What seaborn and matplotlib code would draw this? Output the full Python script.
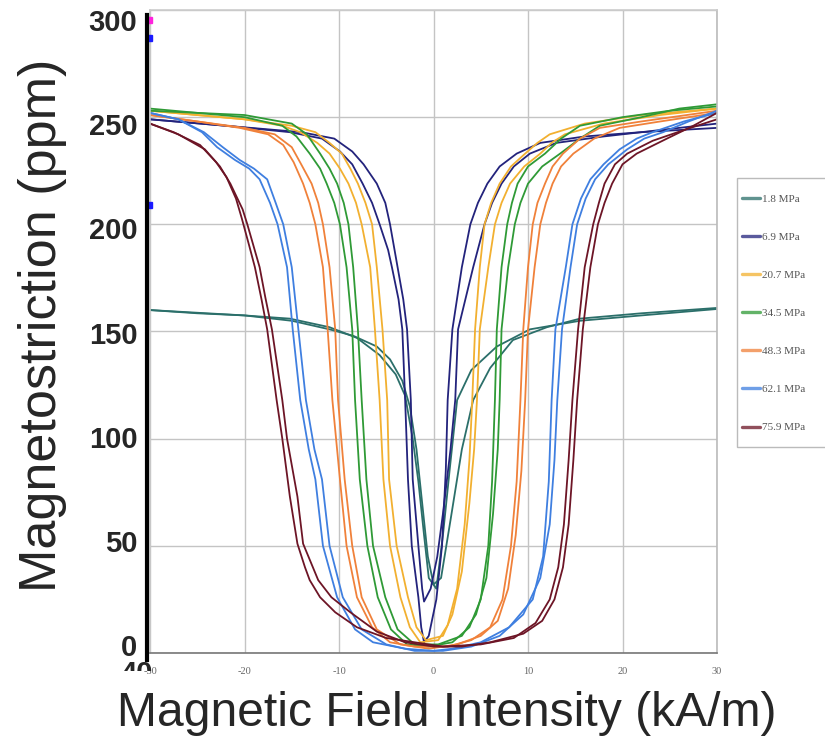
import matplotlib
matplotlib.use("Agg")
import matplotlib.pyplot as plt
from matplotlib.lines import Line2D
from matplotlib.patches import Rectangle
import seaborn as sns
import pandas as pd

sns.set_theme(style="white")
plt.rcParams["font.family"] = ["Liberation Sans", "DejaVu Sans"]

# Pre-stress levels and their curve colours
stress_labels = ["1.8 MPa", "6.9 MPa", "20.7 MPa", "34.5 MPa", "48.3 MPa", "62.1 MPa", "75.9 MPa"]
stress_colors = ["#2b6f6a", "#23237c", "#f2b030", "#2f9a36", "#f0813a", "#3f7fe0", "#6d1526"]

# Magnetostriction (ppm) against field intensity (kA/m); two branches per stress level
h_1_8_a = [-30, -25, -20, -15.2, -11, -8.1, -5.7, -4.0, -3.0, -2.2, -1.6, -1.0, -0.5, 0.3, 1.0, 1.7, 2.5, 4.0, 6.7, 10.2, 15.5, 22, 30]
l_1_8_a = [160, 158.5, 157.5, 156, 152, 147, 139, 130, 120, 100, 80, 55, 35, 30, 55, 85, 118, 132, 143, 151, 155, 157.5, 160.5]
h_1_8_b = [-30, -20, -15, -11, -8.5, -6.0, -4.6, -3.3, -2.5, -1.8, -1.2, -0.6, 0.0, 0.8, 1.8, 3.0, 4.2, 6.0, 8.4, 12, 15.5, 22, 30]
l_1_8_b = [160, 157.5, 155, 151, 148, 143, 137, 127, 115, 95, 70, 45, 32, 35, 62, 95, 118, 133, 146, 152, 156, 158.5, 161]

h_6_9_a = [-30, -22, -15.2, -11.8, -9.9, -8.6, -7.5, -6.5, -5.7, -4.8, -4.4, -3.7, -3.3, -3.0, -2.7, -2.3, -1.6, -1.3, -1.0,
           -0.5, 0.3, 0.9, 1.3, 1.5, 2.0, 3.0, 3.9, 4.7, 5.7, 7.0, 8.8, 11.3, 16, 22, 30]
l_6_9_a = [249, 246, 243, 240, 234, 228, 219, 210, 200, 188, 180, 165, 151, 118, 81, 50, 26, 12, 5,
           8, 25, 50, 85, 118, 151, 180, 200, 210, 219, 227, 233, 238, 241, 243, 245]
h_6_9_b = [-30, -22, -14, -10.5, -8.6, -7.4, -6.0, -5.1, -4.6, -4.2, -3.8, -3.2, -2.8, -2.4, -2.2, -1.6, -1.2, -1.0,
           -0.3, 0.4, 1.0, 1.8, 2.3, 2.6, 4.2, 5.4, 6.2, 7.2, 8.5, 10.2, 13, 18, 24, 30]
l_6_9_b = [249, 246, 243, 240, 234, 228, 219, 210, 200, 190, 180, 165, 151, 118, 81, 50, 30, 24,
           30, 45, 65, 95, 118, 151, 180, 200, 210, 219, 227, 233, 238, 241, 244, 247]

h_20_7_a = [-30, -25, -20, -16, -14.1, -12.3, -11.0, -9.9, -9.0, -8.2, -7.6, -6.7, -6.2, -5.7, -5.3, -4.6, -3.5, -2.5, -1.4,
            0.5, 1.5, 2.5, 3.3, 3.8, 4.1, 4.4, 4.9, 5.4, 6.1, 7.0, 8.2, 9.7, 11, 12.3, 16, 22, 30]
l_20_7_a = [253, 251, 249, 246, 243, 238, 233, 226, 219, 210, 200, 180, 151, 118, 81, 50, 26, 12, 5,
            6, 13, 30, 60, 90, 118, 151, 180, 200, 210, 219, 227, 233, 238, 242, 247, 251, 254]
h_20_7_b = [-30, -25, -20, -15, -12.5, -11, -9.7, -8.8, -8.0, -7.2, -6.5, -6.0, -5.4, -4.9, -4.7, -3.9, -2.7, -1.8, -0.8,
            1.0, 2.0, 3.0, 3.8, 4.3, 4.6, 4.9, 5.8, 6.5, 7.2, 8.1, 9.6, 11.3, 12.5, 13.9, 18, 24, 30]
l_20_7_b = [253, 251, 249, 246, 243, 238, 233, 226, 219, 210, 200, 180, 151, 118, 81, 50, 26, 12, 6,
            8, 18, 38, 70, 95, 118, 151, 180, 200, 210, 219, 227, 233, 238, 242, 247, 251, 254]

h_34_5_a = [-30, -25, -20, -16, -14.5, -13.1, -12.0, -11.3, -10.5, -9.9, -9.2, -8.6, -8.3, -7.8, -7.0, -5.9, -4.5, -2.8, -0.5,
            2, 3.8, 5, 5.8, 6.2, 6.5, 6.7, 7.2, 7.8, 8.3, 8.9, 10, 11.8, 13.5, 15.5, 20, 25, 30]
l_34_5_a = [253, 252, 250, 246, 241, 233, 226, 219, 210, 200, 180, 151, 118, 81, 50, 26, 11, 4, 3,
            5, 12, 25, 50, 80, 118, 151, 180, 200, 210, 219, 227, 233, 240, 246, 250, 253, 255]
h_34_5_b = [-30, -25, -20, -15, -13.4, -12.0, -11.0, -10.2, -9.5, -9.0, -8.5, -8.0, -7.6, -7.1, -6.4, -5.1, -3.8, -2, 0.5,
            3, 4.5, 5.6, 6.3, 6.8, 7.0, 7.2, 7.9, 8.6, 9.2, 10.0, 11.5, 13.4, 15.5, 17.6, 22, 26, 30]
l_34_5_b = [254, 252, 251, 247, 242, 233, 226, 219, 210, 200, 180, 151, 118, 81, 50, 26, 11, 4, 4,
            8, 18, 35, 65, 95, 118, 151, 180, 200, 210, 219, 227, 233, 240, 246, 250, 254, 256]

h_48_3_a = [-30, -25, -20.5, -17.5, -15.9, -14.8, -13.8, -13.1, -12.5, -11.7, -11.2, -10.7, -9.9, -9.2, -8.1, -6.5, -4.6, -2,
            1.5, 4, 6, 7.3, 8.2, 8.8, 9.2, 9.5, 10.0, 10.5, 11.0, 11.8, 12.6, 13.7, 15.5, 17.6, 22, 30]
l_48_3_a = [251, 248, 245, 242, 237, 229, 219, 210, 200, 180, 151, 118, 81, 50, 26, 12, 5, 3,
            3, 6, 12, 25, 50, 80, 118, 151, 180, 200, 210, 219, 227, 233, 240, 245, 248, 253]
h_48_3_b = [-30, -25, -20, -16.8, -15.0, -14.0, -12.9, -12.2, -11.7, -11.0, -10.4, -10.1, -9.4, -8.6, -7.6, -6, -3.5, -0.5,
            2.5, 5, 6.8, 7.9, 8.7, 9.3, 9.7, 10.0, 10.7, 11.3, 11.9, 12.6, 13.5, 14.8, 17, 19.7, 24, 30]
l_48_3_b = [251, 248, 245, 242, 236, 228, 219, 210, 200, 180, 151, 118, 81, 50, 26, 11, 4, 2,
            4, 8, 15, 30, 55, 85, 118, 151, 180, 200, 210, 219, 227, 233, 240, 245, 248, 252]

h_62_1_a = [-30, -27, -24.5, -22.9, -21, -19.5, -18.4, -17.3, -16.5, -15.5, -14.9, -14.1, -13.2, -12.5, -11.7, -10.2, -8.3, -6.4, -3, 0,
            2, 5, 8, 10.5, 11.6, 12.2, 12.5, 12.9, 14.0, 14.7, 15.6, 16.6, 18, 19.7, 21.5, 23.2, 26.5, 30]
l_62_1_a = [252, 249, 243, 236, 230, 226, 221, 210, 200, 180, 151, 118, 95, 81, 50, 26, 11, 5, 2, 1,
            2, 5, 12, 25, 45, 80, 118, 151, 180, 200, 212, 221, 228, 235, 240, 243, 248, 252]
h_62_1_b = [-30, -27, -24.3, -22.3, -20.5, -19, -17.6, -16.7, -15.9, -15.0, -14.3, -13.5, -12.6, -11.8, -11.0, -9.6, -7.6, -5, -2,
            1, 4, 7, 9.5, 11.3, 12.3, 12.8, 13.1, 13.6, 14.5, 15.2, 16.1, 17.1, 18.5, 20.5, 22.3, 24.3, 27, 30]
l_62_1_b = [252, 249, 243, 236, 230, 226, 221, 210, 200, 180, 151, 118, 95, 81, 50, 26, 11, 4, 1,
            1, 3, 8, 18, 35, 60, 90, 118, 151, 180, 200, 212, 221, 228, 235, 240, 243, 248, 253]

h_75_9_a = [-30, -27.5, -24.7, -23, -21.9, -20.9, -20.3, -19.5, -18.9, -18.2, -17.6, -16.6, -16.0, -15.2, -14.4, -13.6, -13.1, -12.0, -10.4, -8.1, -5.0, -2.0,
            1, 5, 8.5, 10.8, 12.3, 13.2, 13.8, 14.3, 14.7, 15.3, 16.0, 16.9, 17.5, 18.1, 19.2, 20.5, 23.2, 26.5, 30]
l_75_9_a = [247, 243, 237, 229, 222, 212, 203, 190, 180, 165, 151, 118, 100, 73, 51, 40, 34, 26, 19, 12, 7, 5,
            3, 4, 7, 14, 25, 40, 60, 90, 118, 151, 180, 200, 210, 219, 228, 233, 239, 244, 249]
h_75_9_b = [-30, -27, -24.2, -22.6, -21.5, -20.2, -19.7, -18.4, -17.8, -17.1, -16.0, -15.5, -14.4, -13.8, -12.2, -10.8, -8.8, -6.0, -3.0, 0,
            3, 6, 9.5, 11.5, 12.8, 13.7, 14.3, 14.8, 15.2, 15.8, 16.6, 17.4, 18.1, 18.9, 20.0, 21.5, 24.7, 27.5, 30]
l_75_9_b = [247, 242, 235, 227, 219, 207, 200, 180, 166, 151, 118, 100, 73, 51, 34, 26, 19, 10, 5, 3,
            3, 5, 9, 15, 25, 40, 60, 90, 118, 151, 180, 200, 210, 219, 228, 233, 240, 246, 252]

branches = [
    ("1.8 MPa", "a", h_1_8_a, l_1_8_a), ("1.8 MPa", "b", h_1_8_b, l_1_8_b),
    ("6.9 MPa", "a", h_6_9_a, l_6_9_a), ("6.9 MPa", "b", h_6_9_b, l_6_9_b),
    ("20.7 MPa", "a", h_20_7_a, l_20_7_a), ("20.7 MPa", "b", h_20_7_b, l_20_7_b),
    ("34.5 MPa", "a", h_34_5_a, l_34_5_a), ("34.5 MPa", "b", h_34_5_b, l_34_5_b),
    ("48.3 MPa", "a", h_48_3_a, l_48_3_a), ("48.3 MPa", "b", h_48_3_b, l_48_3_b),
    ("62.1 MPa", "a", h_62_1_a, l_62_1_a), ("62.1 MPa", "b", h_62_1_b, l_62_1_b),
    ("75.9 MPa", "a", h_75_9_a, l_75_9_a), ("75.9 MPa", "b", h_75_9_b, l_75_9_b),
]
rows = []
for label, br, hs, ls in branches:
    for h, l in zip(hs, ls):
        rows.append({"stress": label, "branch": br, "H": h, "lam": l})
df = pd.DataFrame(rows)

# Axis tick values
x_ticks = [-30, -20, -10, 0, 10, 20, 30]
y_ticks = [0, 50, 100, 150, 200, 250, 300]

W, Hpx = 825, 740
fig = plt.figure(figsize=(W / 100, Hpx / 100), dpi=100)
fig.patch.set_facecolor("white")

# Plot area
ax = fig.add_axes([150 / W, (Hpx - 653) / Hpx, 567 / W, 643 / Hpx])
palette = dict(zip(stress_labels, stress_colors))
sns.lineplot(data=df, x="H", y="lam", hue="stress", units="branch", estimator=None,
             sort=False, palette=palette, hue_order=stress_labels, lw=1.3,
             legend=False, ax=ax)
ax.set_xlim(-30, 30)
ax.set_ylim(0, 300)
ax.set_xticks(x_ticks)
ax.set_yticks(y_ticks)
ax.set_yticklabels([])
ax.tick_params(axis="y", length=0)
ax.set_xticklabels([str(t) for t in x_ticks], family=["Liberation Serif", "DejaVu Serif"],
                   fontsize=7.5, color="#666666")
ax.tick_params(axis="x", length=5, width=0.8, color="#999999", pad=5)
ax.grid(True, color="#c4c4c4", lw=1.0)
ax.set_axisbelow(True)
for side, col in [("left", "#c8c8c8"), ("top", "#cccccc"), ("right", "#bbbbbb"), ("bottom", "#777777")]:
    ax.spines[side].set_color(col)
    ax.spines[side].set_linewidth(1.2)
ax.set_xlabel("")
ax.set_ylabel("")

# Legend box at the right edge
fig.patches.append(Rectangle((737 / W, 1 - 447 / Hpx), 100 / W, 269 / Hpx,
                             transform=fig.transFigure, facecolor="white",
                             edgecolor="#bbbbbb", lw=1.0, zorder=0))
handles = [Line2D([], [], color=c, lw=2.4, alpha=0.75) for c in stress_colors]
leg = fig.legend(handles, stress_labels, loc="upper left",
                 bbox_to_anchor=(742 / W, 1 - 194 / Hpx), frameon=False,
                 prop={"family": ["Liberation Serif", "DejaVu Serif"], "size": 8},
                 labelcolor="#555555", handlelength=1.6, handletextpad=0.2,
                 labelspacing=2.55, borderpad=0, borderaxespad=0)

# Outer value axis on the left
ax_out = fig.add_axes([147 / W, (Hpx - 660) / Hpx, 6 / W, 645 / Hpx])
ax_out.set_xlim(0, 6)
ax_out.set_ylim(-7.2, 302.4)
ax_out.patch.set_visible(False)
for side in ["top", "right", "bottom"]:
    ax_out.spines[side].set_visible(False)
ax_out.spines["left"].set_linewidth(3)
ax_out.spines["left"].set_color("black")
ax_out.set_xticks([])
ax_out.set_yticks(y_ticks)
ax_out.set_yticklabels([str(t) for t in y_ticks], fontsize=21, fontweight="bold",
                       family=["Liberation Sans Narrow", "Liberation Sans", "DejaVu Sans"])
ax_out.tick_params(axis="y", direction="in", length=4, width=2, color="black", pad=7)
ax_out.plot([1.5], [300], "s", color="#ff22dd", ms=5, clip_on=False)
ax_out.plot([1.5], [291.5], "s", color="#1a1aff", ms=5, clip_on=False)
ax_out.plot([1.5], [211], "s", color="#1a1aff", ms=5, clip_on=False)

# Partly hidden label under the origin
t40 = fig.text(153 / W, 1 - 660 / Hpx, "40", ha="right", va="top", fontsize=21,
               fontweight="bold", family=["Liberation Sans Narrow", "Liberation Sans", "DejaVu Sans"])
clip_rect = Rectangle((0, 1 - 671 / Hpx), 1, 20 / Hpx, transform=fig.transFigure)
t40.set_clip_path(clip_rect)

fig.text(447 / W, 1 - 713 / Hpx, "Magnetic Field Intensity (kA/m)", ha="center", va="center",
         fontsize=34.6)
fig.text(43 / W, 1 - 325 / Hpx, "Magnetostriction (ppm)", ha="center", va="center",
         rotation=90, fontsize=37.5)

fig.savefig("out.png", dpi=100, facecolor="white")
